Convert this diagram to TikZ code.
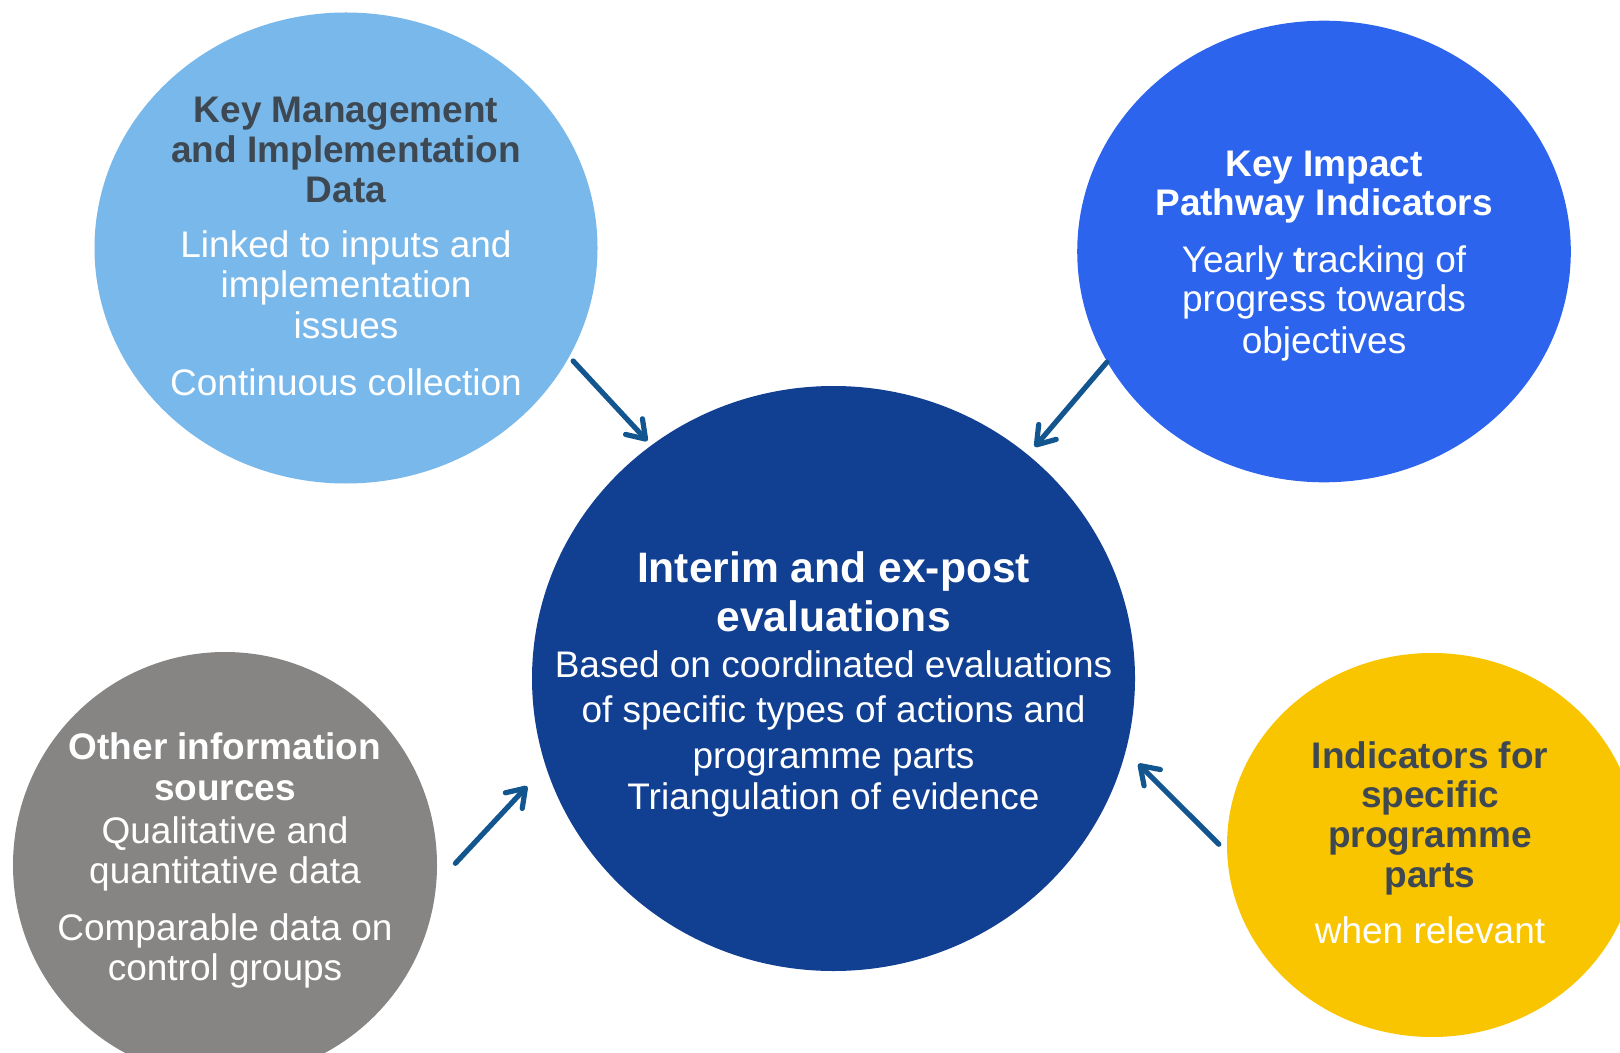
\documentclass[tikz,border=0pt]{standalone}
\usepackage{fontspec}
\setmainfont{Liberation Sans}
\usetikzlibrary{shapes.geometric,arrows.meta}
\definecolor{kmlight}{HTML}{79B8EA}
\definecolor{kipblue}{HTML}{2C64EE}
\definecolor{evnavy}{HTML}{113F91}
\definecolor{oisgray}{HTML}{868584}
\definecolor{indyellow}{HTML}{F9C400}
\definecolor{titledark}{HTML}{3D4852}
\definecolor{arrowblue}{HTML}{12558F}

\begin{document}
\begin{tikzpicture}[x=0.5pt, y=-0.5pt,
    bubble/.style={ellipse, inner sep=0pt},
    head/.style={anchor=base, inner sep=0pt, font=\bfseries\fontsize{18.5}{20}\selectfont},
    body/.style={anchor=base, inner sep=0pt, text=white, font=\fontsize{18.5}{20}\selectfont},
    feed/.style={line width=2.6pt, draw=arrowblue, line cap=round, -{Straight Barb[length=8.5pt, width=11.5pt, round]}}]
    \useasboundingbox (0,0) rectangle (1620,1053);
    \clip (0,0) rectangle (1620,1053);

    % the five bubbles
    \node[bubble, fill=kmlight, minimum width=251.5pt, minimum height=235.5pt] (kmd) at (346,248) {};
    \node[bubble, fill=kipblue, minimum width=246.8pt, minimum height=230.8pt] (kip) at (1324,251.5) {};
    \node[bubble, fill=evnavy, minimum width=301.5pt, minimum height=292.5pt] (eval) at (833.5,678.5) {};
    \node[bubble, fill=oisgray, minimum width=212pt, minimum height=213pt] (ois) at (225,865) {};
    \node[bubble, fill=indyellow, minimum width=205pt, minimum height=192pt] (ind) at (1432,845) {};

    % key management and implementation data
    \foreach \t/\y [count=\i] in {Key Management/123, and Implementation/163, Data/203}
        \node[head, text=titledark] (kmd-h\i) at (346,\y) {\t};
    \foreach \t/\y [count=\i] in {Linked to inputs and/258, implementation/298, issues/338, Continuous collection/395}
        \node[body] (kmd-b\i) at (346,\y) {\t};

    % key impact pathway indicators
    \foreach \t/\y [count=\i] in {Key Impact/177, Pathway Indicators/216}
        \node[head, text=white] (kip-h\i) at (1324,\y) {\t};
    \foreach \t/\y [count=\i] in {Yearly \textbf{t}racking of/273, progress towards/312, objectives/353}
        \node[body] (kip-b\i) at (1324,\y) {\t};

    % evaluations
    \foreach \t/\y [count=\i] in {Interim and ex-post/582, evaluations/631}
        \node[head, text=white, font=\bfseries\fontsize{21.3}{24}\selectfont] (eval-h\i) at (833.5,\y) {\t};
    \foreach \t/\y [count=\i] in {Based on coordinated evaluations/677, of specific types of actions and/722, programme parts/768, Triangulation of evidence/809}
        \node[body] (eval-b\i) at (833.5,\y) {\t};

    % other information sources
    \foreach \t/\y [count=\i] in {Other information/759, sources/800}
        \node[head, text=white] (ois-h\i) at (225,\y) {\t};
    \foreach \t/\y [count=\i] in {Qualitative and/843, quantitative data/883, Comparable data on/940, control groups/980}
        \node[body] (ois-b\i) at (225,\y) {\t};

    % indicators for specific programme parts
    \foreach \t/\y [count=\i] in {Indicators for/768, specific/807, programme/847, parts/887}
        \node[head, text=titledark] (ind-h\i) at (1430,\y) {\t};
    \node[body] (ind-b1) at (1430,943) {when relevant};

    \draw[feed, shorten <=2.75pt, shorten >=2.8pt] (kmd.-26.8) -- (eval.128.9);
    \draw[feed, shorten >=5.1pt] (kip.207.5) -- (eval.49.4);
    \draw[feed, shorten <=13.8pt, shorten >=13.5pt] (ois.-5.8) -- (eval.197.1);
    \draw[feed, shorten <=5.6pt, shorten >=8.8pt] (ind.182.1) -- (eval.-14.9);
\end{tikzpicture}
\end{document}
